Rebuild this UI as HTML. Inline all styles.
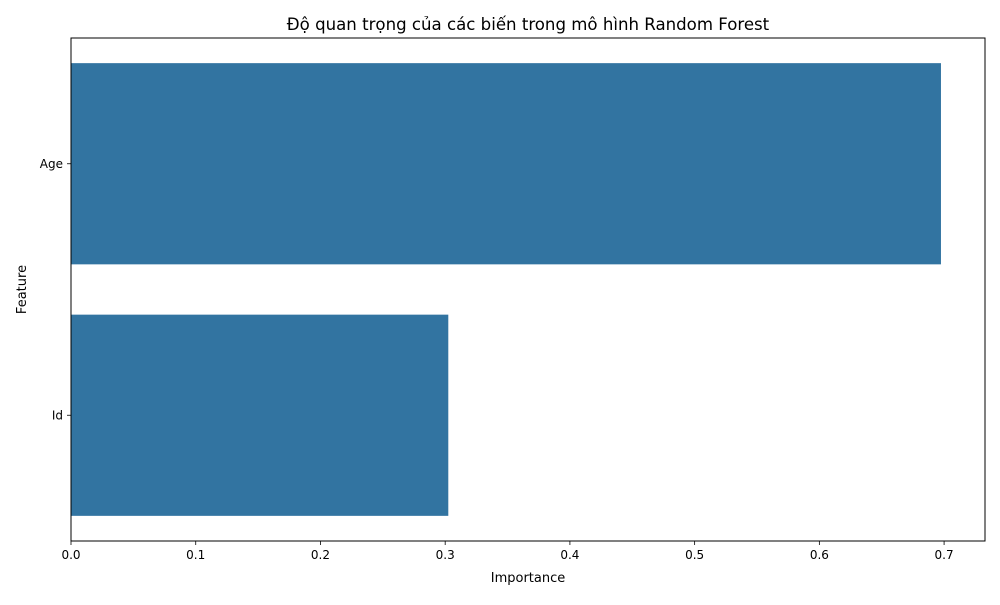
<!DOCTYPE html>
<html><head><meta charset="utf-8"><style>
body{margin:0;background:#fff;font-family:"Liberation Sans","DejaVu Sans",sans-serif;}
svg text{font-family:"DejaVu Sans","Liberation Sans",sans-serif;fill:#000}
</style></head><body>
<svg id="chart" width="1000" height="600"></svg>
<script>
const categories = ["Age","Id"];
const importances = [0.6975,0.3025];
const tickValues = [0,0.1,0.2,0.3,0.4,0.5,0.6,0.7];
const tickLabels = ["0.0","0.1","0.2","0.3","0.4","0.5","0.6","0.7"];

const L=71,R=985,T=38,B=541,xmax=0.7328;
const svg=document.getElementById('chart');
const NS='http://www.w3.org/2000/svg';
function el(t,a,p){const e=document.createElementNS(NS,t);for(const k in a)e.setAttribute(k,a[k]);(p||svg).appendChild(e);return e;}
const x=v=>L+v/xmax*(R-L);
const band=(B-T)/categories.length;
const y=i=>T+band*i+band/2;

categories.forEach((c,i)=>{
  const r=el('rect',{x:L,y:y(i)-band*0.4,width:x(importances[i])-L,height:band*0.8,fill:'#3274a1'});
  
  
  const tk=el('line',{x1:L-4,x2:L,y1:y(i),y2:y(i),stroke:'#000','stroke-width':0.8});
  
  
  const t=el('text',{x:L-8,y:y(i)+4,'text-anchor':'end','font-size':12});
  t.textContent=c;
  
  
});
tickValues.forEach((v,i)=>{
  const tk=el('line',{x1:x(v),x2:x(v),y1:B,y2:B+4,stroke:'#000','stroke-width':0.8});
  
  
  const t=el('text',{x:x(v),y:B+18,'text-anchor':'middle','font-size':12});
  t.textContent=tickLabels[i];
  
  
});
const frame=el('rect',{x:L,y:T,width:R-L,height:B-T,fill:'none',stroke:'#000','stroke-width':1});


const xt=el('text',{x:(L+R)/2,y:582,'text-anchor':'middle','font-size':13});
xt.textContent='Importance';


const yt=el('text',{x:0,y:0,'text-anchor':'middle','font-size':13,transform:`translate(26,${(T+B)/2}) rotate(-90)`});
yt.textContent='Feature';


const tt=el('text',{x:(L+R)/2,y:30,'text-anchor':'middle','font-size':16.6});
tt.textContent='Độ quan trọng của các biến trong mô hình Random Forest';


</script>
</body></html>
